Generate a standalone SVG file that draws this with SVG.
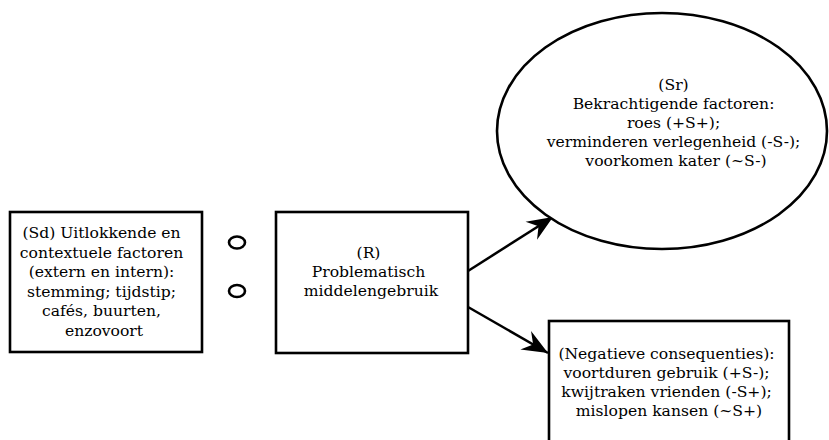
<svg xmlns="http://www.w3.org/2000/svg" width="829" height="440" viewBox="0 0 829 440">
  <style>
    .shape { fill: #ffffff; stroke: #000000; stroke-width: 2.6; }
    .dot { fill: none; stroke: #000000; stroke-width: 2.6; }
    .label { font-family: "DejaVu Serif", "Liberation Serif", serif; font-size: 15.6px; fill: #000000; text-anchor: middle; }
    .edge { stroke: #000000; stroke-width: 2.5; fill: none; marker-end: url(#head); }
  </style>
  <defs>
    <!-- notched solid arrowhead, tip at the path end -->
    <marker id="head" markerUnits="userSpaceOnUse" markerWidth="30" markerHeight="30" viewBox="-26 -12 28 24" refX="0" refY="0" orient="auto">
      <path d="M0,0 L-24,-10 L-16,0 L-24,10 Z" fill="#000000"/>
    </marker>
  </defs>
  <rect width="829" height="440" fill="#ffffff"/>

  <g id="connectors">
    <line class="edge" x1="468" y1="271" x2="553" y2="217"/>
    <line class="edge" x1="468" y1="307" x2="548" y2="353"/>
  </g>

  <g id="sd">
    <rect class="shape" x="10" y="212" width="192" height="140"/>
    <text class="label">
      <tspan x="104" y="238">(Sd) Uitlokkende en</tspan>
      <tspan x="104" y="257.5">contextuele factoren</tspan>
      <tspan x="104" y="277">(extern en intern):</tspan>
      <tspan x="104" y="296.5">stemming; tijdstip;</tspan>
      <tspan x="104" y="316">cafés, buurten,</tspan>
      <tspan x="104" y="335.5">enzovoort</tspan>
    </text>
  </g>

  <g id="links">
    <ellipse class="dot" cx="237" cy="242.5" rx="8" ry="6"/>
    <ellipse class="dot" cx="237" cy="291" rx="8" ry="6"/>
  </g>

  <g id="r">
    <rect class="shape" x="276" y="212" width="192" height="141"/>
    <text class="label">
      <tspan x="371" y="258">(R)</tspan>
      <tspan x="371" y="277">Problematisch</tspan>
      <tspan x="371" y="296">middelengebruik</tspan>
    </text>
  </g>

  <g id="sr">
    <ellipse class="shape" cx="662" cy="131" rx="165" ry="118"/>
    <text class="label">
      <tspan x="676" y="90">(Sr)</tspan>
      <tspan x="676" y="109">Bekrachtigende factoren:</tspan>
      <tspan x="676" y="128">roes (+S+);</tspan>
      <tspan x="676" y="147">verminderen verlegenheid (-S-);</tspan>
      <tspan x="676" y="166">voorkomen kater (~S-)</tspan>
    </text>
  </g>

  <g id="consequences">
    <rect class="shape" x="549" y="321" width="240" height="130"/>
    <text class="label">
      <tspan x="669" y="359">(Negatieve consequenties):</tspan>
      <tspan x="669" y="378">voortduren gebruik (+S-);</tspan>
      <tspan x="669" y="397">kwijtraken vrienden (-S+);</tspan>
      <tspan x="669" y="416">mislopen kansen (~S+)</tspan>
    </text>
  </g>
</svg>
